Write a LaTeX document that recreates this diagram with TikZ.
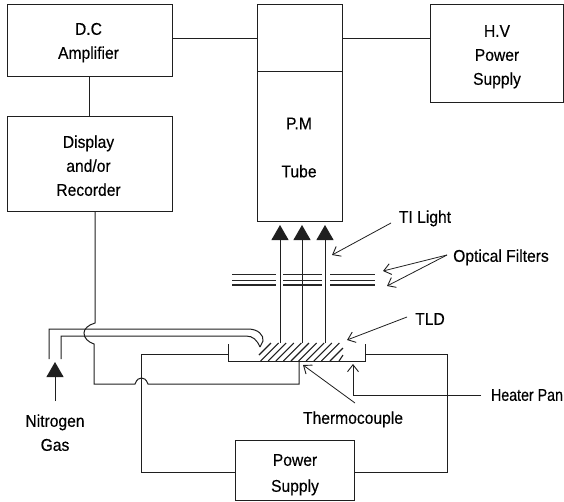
\documentclass[tikz,border=0pt]{standalone}
\usepackage{fontspec}
\setmainfont[FakeBold=0.35]{Liberation Sans}
\usetikzlibrary{arrows.meta}
\newcommand\lbl[1]{\scalebox{.92}[1]{\fontsize{17}{24}\selectfont\addfontfeature{FakeBold=0.35}\begin{tabular}{@{}c@{}}#1\end{tabular}}}
\tikzset{
  x=1pt,y=-1pt,
  ink/.style={draw=black!88,line width=1pt},
  blockbox/.style={ink,minimum width=#1,inner sep=0pt,outer sep=0pt},
  txt/.style={inner sep=0pt,outer sep=0pt},
  wire/.style={ink,line join=miter},
  pointer/.style={draw=black!88,line width=.8pt,-{Straight Barb[length=7pt,width=11pt,line width=.9pt]}},
  beam/.style={ink,-{Triangle[length=15pt,width=17pt]}},
  filt/.style={draw=black!85,line width=1pt},
}
\begin{document}
\begin{tikzpicture}
\useasboundingbox (0,0) rectangle (564,501);
% blocks
\node[blockbox=165pt,minimum height=72pt] (dc) at (89.5,40) {};
\node[txt] (dct) at (88.5,42) {\lbl{D.C\\Amplifier}};
\node[blockbox=165pt,minimum height=95pt] (disp) at (89.5,163.5) {};
\node[txt] (dispt) at (88.5,167) {\lbl{Display\\and/or\\Recorder}};
\node[blockbox=85pt,minimum height=217pt] (pm) at (299.5,112.5) {};
\node[txt] (pmt) at (299,124.5) {\lbl{P.M}};
\node[txt] (tubet) at (299,172.5) {\lbl{Tube}};
\node[blockbox=133pt,minimum height=98pt] (hv) at (496.5,53) {};
\node[txt] (hvt) at (497,56) {\lbl{H.V\\Power\\Supply}};
\node[blockbox=119pt,minimum height=60pt] (ps) at (294.5,470) {};
\node[txt] (pst) at (295,474) {\lbl{Power\\[2pt]Supply}};
% labels
\node[txt] (til) at (425,218) {\lbl{TI Light}};
\node[txt] (opt) at (501,257) {\lbl{Optical Filters}};
\node[txt] (tld) at (430,320) {\lbl{TLD}};
\node[txt] (hp) at (527,396) {\scalebox{.91}[1]{\lbl{Heater Pan}}};
\node[txt] (tc) at (353,419) {\lbl{Thermocouple}};
\node[txt] (ng) at (55,434) {\lbl{Nitrogen\\Gas}};
% coordinates
\coordinate (dcy) at (0,38);
\coordinate (divy) at (0,71);
\coordinate (wx) at (95,0);
\coordinate (dcx) at (89,0);
\coordinate (panl) at (228,354);
\coordinate (panr) at (365,354);
\coordinate (tcw) at (299,361);
\coordinate (psy) at (0,472);
% links between blocks
\draw[wire] (dc.east |- dcy) -- (pm.west |- dcy);
\draw[wire] (pm.east |- dcy) -- (hv.west |- dcy);
\draw[wire] (pm.west |- divy) -- (pm.east |- divy);
\draw[wire] (dc.south -| dcx) -- (disp.north -| dcx);
% gas tube
\draw[wire] (49,359) -- (49,329) -- (248,329) .. controls (258,329) and (264,335) .. (263,341) -- (260,347);
\draw[wire] (61,359) -- (61,336) -- (246,336) .. controls (253,336) and (257,340) .. (260,347);
% thermocouple wire with bumps
\draw[wire] (disp.south -| wx) -- (95,323) .. controls (88,325) and (84,329) .. (84,333) .. controls (84,338) and (88,342) .. (94,344) -- (94,384) -- (135,384) .. controls (137,379) and (139,378) .. (141.5,378) .. controls (144,378) and (146,379) .. (148,384) -- (299,384) -- (tcw);
% heater loop
\draw[wire] (ps.west |- psy) -- (141,472) -- (141,354) -- (panl);
\draw[wire] (ps.east |- psy) -- (447,472) -- (447,354) -- (panr);
% pan
\draw[wire] (228,344) -- (228,361) -- (365,361) -- (365,344);
% hatching
\draw[ink,line width=1.1pt] (259,355) -- (271,343);
\foreach \k in {1,...,9}{
  \draw[ink,line width=1.1pt] ({253+7.6*\k},361) -- ({271+7.6*\k},343);
}
\draw[ink,line width=1.1pt] (330,361) -- (343,348);
\draw[ink,line width=1.1pt] (339,361) -- (343,355);
% beams
\coordinate (b1) at (280,343);
\coordinate (b2) at (302,343);
\coordinate (b3) at (325,343);
\coordinate (t1) at (280,225);
\coordinate (t2) at (302,225);
\coordinate (t3) at (325,225);
\draw[beam] (b1) -- (t1);
\draw[beam] (b2) -- (t2);
\draw[beam] (b3) -- (t3);
% filters
\foreach \y/\w in {274/1,280/.8,285/1.1}{
  \draw[filt,line width=\w pt] (232,\y) -- (276,\y);
  \draw[filt,line width=\w pt] (283,\y) -- (322,\y);
  \draw[filt,line width=\w pt] (330,\y) -- (375,\y);
}
% nitrogen arrow
\coordinate (n1) at (55,401);
\coordinate (n2) at (55,362);
\draw[beam] (n1) -- (n2);
% pointers
\coordinate (p1) at (391,223);
\coordinate (p2) at (332,255);
\draw[pointer] (p1) -- (p2);
\coordinate (p3) at (447,255);
\coordinate (p4) at (383,271);
\coordinate (p5) at (387,286);
\draw[pointer] (p3) -- (p4);
\draw[pointer] (p3) -- (p5);
\coordinate (p6) at (407,317);
\coordinate (p7) at (347,340);
\draw[pointer] (p6) -- (p7);
\coordinate (p8) at (481,395);
\coordinate (p9) at (353,364);
\draw[pointer] (p8) -- (353,395) -- (p9);
\coordinate (p10) at (355,403);
\coordinate (p11) at (303,365);
\draw[pointer] (p10) -- (p11);
\end{tikzpicture}
\end{document}
